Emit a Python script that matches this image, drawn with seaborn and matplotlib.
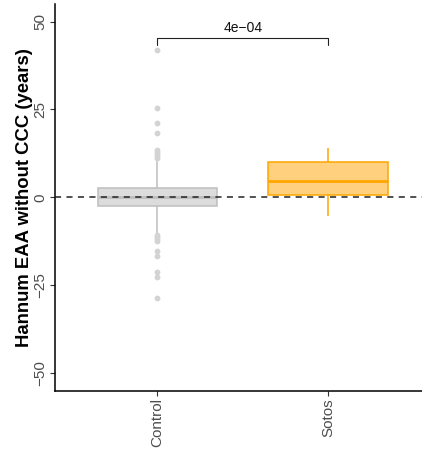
import numpy as np
import pandas as pd
import matplotlib
matplotlib.use("Agg")
import matplotlib.pyplot as plt
import seaborn as sns

# ---- data ----
groups = ["Control", "Sotos"]
control_values = [
    -28.5, -22.7, -21.1, -16.6, -15.4, -12.3, -11.8, -11.3, -10.8,
    -10.3, -8.5, -6.9, -5.4, -4.2, -3.3, -2.5,
    -2.3, -2.1, -1.9, -1.7, -1.5, -1.3, -1.1, -0.9, -0.8, -0.6, -0.5, -0.3, -0.2, -0.1,
    0.0,
    0.1, 0.3, 0.4, 0.6, 0.8, 1.0, 1.2, 1.4, 1.6, 1.8, 2.0, 2.2, 2.4, 2.6,
    2.8, 3.5, 4.4, 5.6, 7.0, 8.7, 10.5,
    11.2, 11.8, 12.4, 13.0, 13.6, 18.2, 21.2, 25.3, 41.9,
]
sotos_values = [-5.4, 0.3, 0.8, 2.9, 4.6, 7.5, 10.1, 12.0, 13.9]
y_ticks = [-50, -25, 0, 25, 50]
y_label = "Hannum EAA without CCC (years)"
p_label = "4e\u221204"
bracket_y = 45.2
bracket_drop = 1.9

fills = {"Control": "#DCDCDC", "Sotos": "#FFD07E"}
edges = {"Control": "#BEBEBE", "Sotos": "#FFA500"}
flier_col = {"Control": "#D3D3D3", "Sotos": "#FFA500"}

df = pd.DataFrame({
    "group": ["Control"] * len(control_values) + ["Sotos"] * len(sotos_values),
    "value": control_values + sotos_values,
})

sns.set_theme(style="ticks")
plt.rcParams["font.family"] = ["Liberation Sans", "DejaVu Sans"]

fig = plt.figure(figsize=(4.22, 4.57), dpi=100)
ax = fig.add_axes([55 / 422, 1 - 390.7 / 457, 1 - 55 / 422, (390.7 - 4) / 457])

for g in groups:
    sns.boxplot(
        data=df[df["group"] == g], x="group", y="value", order=groups,
        color=fills[g], linecolor=edges[g], saturation=1, width=0.7,
        linewidth=1.1, showcaps=False, ax=ax,
        medianprops=dict(linewidth=2.0, color=edges[g]),
        flierprops=dict(marker="o", markerfacecolor=flier_col[g],
                        markeredgecolor="none", markersize=4.2),
    )

ax.axhline(0, color="#222222", linestyle=(0, (4, 3.5)), linewidth=1.1, zorder=10)

# significance bracket
ax.plot([0, 0, 1, 1], [bracket_y - bracket_drop, bracket_y, bracket_y, bracket_y - bracket_drop],
        color="#222222", linewidth=0.8)
ax.text(0.5, bracket_y + 1.0, p_label, ha="center", va="bottom", fontsize=10, color="#111111")

ax.set_xlim(-0.6, 1.55)
ax.set_ylim(-55, 55)
ax.set_yticks(y_ticks)
ax.set_yticklabels([f"{t}".replace("-", "\u2212") for t in y_ticks], rotation=90, va="center")
ax.set_xticks(range(len(groups)))
ax.set_xticklabels(groups, rotation=90, ha="center", va="top")
ax.set_xlabel("")
ax.set_ylabel(y_label, fontsize=13.3, fontweight="bold", color="black", labelpad=0.5)
ax.tick_params(axis="both", labelsize=11, labelcolor="#4D4D4D", color="#333333",
               length=3.5, width=0.8, pad=2)
sns.despine(ax=ax)
for s in ["left", "bottom"]:
    ax.spines[s].set_color("black")
    ax.spines[s].set_linewidth(1.1)

fig.savefig("out.png", dpi=100)
